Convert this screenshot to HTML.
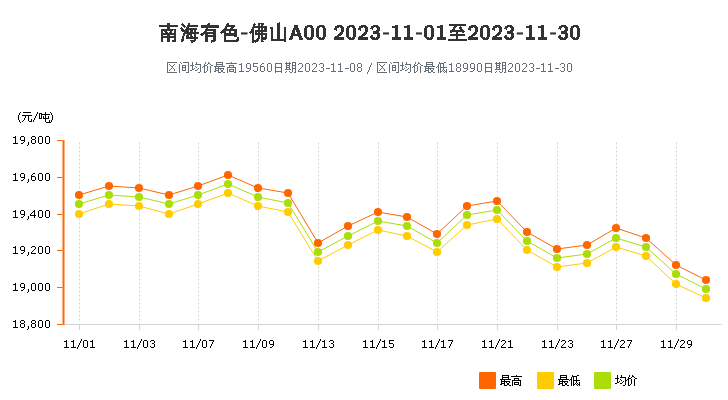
<!DOCTYPE html>
<html><head><meta charset="utf-8"><title>chart</title>
<style>html,body{margin:0;padding:0;background:#fff;font-family:"Liberation Sans",sans-serif}svg{display:block}</style></head>
<body>
<svg width="728" height="400" viewBox="0 0 728 400">
<rect width="728" height="400" fill="#fff"/>
<path d="M79.5 142.5V322.5M139.5 142.5V322.5M198.5 142.5V322.5M258.5 142.5V322.5M318.5 142.5V322.5M378.5 142.5V322.5M437.5 142.5V322.5M497.5 142.5V322.5M557.5 142.5V322.5M616.5 142.5V322.5M676.5 142.5V322.5" stroke="#d4d4d4" stroke-width="1" stroke-dasharray="2 2" fill="none"/>
<path d="M79.5 325v5M139.5 325v5M198.5 325v5M258.5 325v5M318.5 325v5M378.5 325v5M437.5 325v5M497.5 325v5M557.5 325v5M616.5 325v5M676.5 325v5" stroke="#d4d4d4" stroke-width="1" fill="none" shape-rendering="crispEdges"/>
<rect x="64" y="324" width="657.5" height="1" fill="#d4d4d4"/>
<rect x="62.5" y="140" width="2" height="185" fill="#ff6600"/>
<path d="M57 140h5.5v1h-5.5zM57 177h5.5v1h-5.5zM57 214h5.5v1h-5.5zM57 250h5.5v1h-5.5zM57 287h5.5v1h-5.5zM57 324h5.5v1h-5.5z" fill="#ff6600"/>
<polyline points="79,195 109,186 139,188 169,195 198,186 228,175 258,188 288,193 318,243 348,226 378,212 407,217 437,234 467,206 497,201 527,232 557,249 587,245 616,228 646,238 676,265 706,280" fill="none" stroke="#ff6600" stroke-width="1" stroke-linejoin="round"/>
<g fill="#ff6600"><circle cx="79" cy="195" r="4.1"/><circle cx="109" cy="186" r="4.1"/><circle cx="139" cy="188" r="4.1"/><circle cx="169" cy="195" r="4.1"/><circle cx="198" cy="186" r="4.1"/><circle cx="228" cy="175" r="4.1"/><circle cx="258" cy="188" r="4.1"/><circle cx="288" cy="193" r="4.1"/><circle cx="318" cy="243" r="4.1"/><circle cx="348" cy="226" r="4.1"/><circle cx="378" cy="212" r="4.1"/><circle cx="407" cy="217" r="4.1"/><circle cx="437" cy="234" r="4.1"/><circle cx="467" cy="206" r="4.1"/><circle cx="497" cy="201" r="4.1"/><circle cx="527" cy="232" r="4.1"/><circle cx="557" cy="249" r="4.1"/><circle cx="587" cy="245" r="4.1"/><circle cx="616" cy="228" r="4.1"/><circle cx="646" cy="238" r="4.1"/><circle cx="676" cy="265" r="4.1"/><circle cx="706" cy="280" r="4.1"/></g>
<polyline points="79,214 109,204 139,206 169,214 198,204 228,193 258,206 288,212 318,261 348,245 378,230 407,236 437,252 467,225 497,219 527,250 557,267 587,263 616,247 646,256 676,284 706,298" fill="none" stroke="#ffcc00" stroke-width="1" stroke-linejoin="round"/>
<g fill="#ffcc00"><circle cx="79" cy="214" r="4.1"/><circle cx="109" cy="204" r="4.1"/><circle cx="139" cy="206" r="4.1"/><circle cx="169" cy="214" r="4.1"/><circle cx="198" cy="204" r="4.1"/><circle cx="228" cy="193" r="4.1"/><circle cx="258" cy="206" r="4.1"/><circle cx="288" cy="212" r="4.1"/><circle cx="318" cy="261" r="4.1"/><circle cx="348" cy="245" r="4.1"/><circle cx="378" cy="230" r="4.1"/><circle cx="407" cy="236" r="4.1"/><circle cx="437" cy="252" r="4.1"/><circle cx="467" cy="225" r="4.1"/><circle cx="497" cy="219" r="4.1"/><circle cx="527" cy="250" r="4.1"/><circle cx="557" cy="267" r="4.1"/><circle cx="587" cy="263" r="4.1"/><circle cx="616" cy="247" r="4.1"/><circle cx="646" cy="256" r="4.1"/><circle cx="676" cy="284" r="4.1"/><circle cx="706" cy="298" r="4.1"/></g>
<polyline points="79,204 109,195 139,197 169,204 198,195 228,184 258,197 288,203 318,252 348,236 378,221 407,226 437,243 467,215 497,210 527,241 557,258 587,254 616,238 646,247 676,274 706,289" fill="none" stroke="#aadd0a" stroke-width="1" stroke-linejoin="round"/>
<g fill="#aadd0a"><circle cx="79" cy="204" r="4.1"/><circle cx="109" cy="195" r="4.1"/><circle cx="139" cy="197" r="4.1"/><circle cx="169" cy="204" r="4.1"/><circle cx="198" cy="195" r="4.1"/><circle cx="228" cy="184" r="4.1"/><circle cx="258" cy="197" r="4.1"/><circle cx="288" cy="203" r="4.1"/><circle cx="318" cy="252" r="4.1"/><circle cx="348" cy="236" r="4.1"/><circle cx="378" cy="221" r="4.1"/><circle cx="407" cy="226" r="4.1"/><circle cx="437" cy="243" r="4.1"/><circle cx="467" cy="215" r="4.1"/><circle cx="497" cy="210" r="4.1"/><circle cx="527" cy="241" r="4.1"/><circle cx="557" cy="258" r="4.1"/><circle cx="587" cy="254" r="4.1"/><circle cx="616" cy="238" r="4.1"/><circle cx="646" cy="247" r="4.1"/><circle cx="676" cy="274" r="4.1"/><circle cx="706" cy="289" r="4.1"/></g>
<rect x="479" y="372" width="17" height="17" rx="1" fill="#ff6600"/>
<rect x="537" y="372" width="17" height="17" rx="1" fill="#ffcc00"/>
<rect x="594" y="372" width="17" height="17" rx="1" fill="#aadd0a"/>
<g shape-rendering="crispEdges">
<path fill="#333" d="M279 22h1v1h-1zM167 23h3v2h-3zM182 23h1v1h-1zM188 23h2v2h-2zM208 23h2v1h-2zM227 23h2v1h-2zM254 23h1v1h-1zM258 23h6v1h-6zM277 23h3v16h-3zM181 24h3v1h-3zM207 24h3v1h-3zM226 24h3v1h-3zM253 24h3v1h-3zM258 24h2v2h-2zM261 24h3v1h-3zM449 24h17v2h-17zM159 25h19v2h-19zM182 25h3v1h-3zM187 25h11v2h-11zM201 25h18v3h-18zM226 25h9v1h-9zM253 25h2v1h-2zM261 25h2v1h-2zM294 25h4v3h-4zM307 25h5v1h-5zM319 25h5v1h-5zM337 25h5v1h-5zM349 25h5v1h-5zM361 25h5v1h-5zM373 25h5v1h-5zM395 25h3v1h-3zM407 25h3v1h-3zM427 25h5v1h-5zM440 25h3v1h-3zM471 25h5v1h-5zM483 25h5v1h-5zM495 25h5v1h-5zM507 25h5v1h-5zM529 25h3v1h-3zM541 25h3v1h-3zM561 25h5v1h-5zM573 25h5v1h-5zM183 26h3v1h-3zM225 26h10v1h-10zM253 26h14v1h-14zM305 26h8v1h-8zM317 26h8v1h-8zM335 26h8v1h-8zM347 26h8v1h-8zM359 26h8v1h-8zM371 26h8v1h-8zM392 26h6v2h-6zM404 26h6v2h-6zM425 26h8v1h-8zM437 26h6v2h-6zM454 26h3v1h-3zM460 26h1v1h-1zM469 26h8v1h-8zM481 26h8v1h-8zM493 26h8v1h-8zM505 26h8v1h-8zM526 26h6v2h-6zM538 26h6v2h-6zM559 26h8v1h-8zM571 26h8v1h-8zM167 27h3v2h-3zM181 27h1v1h-1zM184 27h1v1h-1zM186 27h3v1h-3zM225 27h2v1h-2zM231 27h3v1h-3zM252 27h15v1h-15zM270 27h3v2h-3zM284 27h2v12h-2zM305 27h3v1h-3zM310 27h3v1h-3zM317 27h3v1h-3zM322 27h3v1h-3zM335 27h4v1h-4zM340 27h4v1h-4zM347 27h3v1h-3zM352 27h3v1h-3zM359 27h4v1h-4zM364 27h4v1h-4zM371 27h3v1h-3zM376 27h4v1h-4zM425 27h3v1h-3zM430 27h3v1h-3zM453 27h3v1h-3zM459 27h3v2h-3zM469 27h4v1h-4zM474 27h4v1h-4zM481 27h3v1h-3zM486 27h3v1h-3zM493 27h4v1h-4zM498 27h4v1h-4zM505 27h3v1h-3zM510 27h4v1h-4zM559 27h3v1h-3zM564 27h4v1h-4zM571 27h3v1h-3zM576 27h3v1h-3zM180 28h3v1h-3zM186 28h11v1h-11zM206 28h2v1h-2zM224 28h3v1h-3zM230 28h3v1h-3zM252 28h2v1h-2zM258 28h2v2h-2zM261 28h2v2h-2zM264 28h3v2h-3zM293 28h6v2h-6zM304 28h3v9h-3zM311 28h3v9h-3zM316 28h3v9h-3zM323 28h3v9h-3zM334 28h3v2h-3zM341 28h3v4h-3zM346 28h3v9h-3zM353 28h3v9h-3zM358 28h3v2h-3zM365 28h3v4h-3zM370 28h3v1h-3zM377 28h3v2h-3zM395 28h3v9h-3zM407 28h3v9h-3zM424 28h3v9h-3zM431 28h3v9h-3zM440 28h3v9h-3zM453 28h2v1h-2zM468 28h3v2h-3zM475 28h3v4h-3zM480 28h3v9h-3zM487 28h3v9h-3zM492 28h3v2h-3zM499 28h3v4h-3zM504 28h3v1h-3zM511 28h3v2h-3zM529 28h3v9h-3zM541 28h3v9h-3zM558 28h3v1h-3zM565 28h3v2h-3zM570 28h3v9h-3zM577 28h3v9h-3zM161 29h15v1h-15zM181 29h3v1h-3zM185 29h12v1h-12zM205 29h11v2h-11zM223 29h14v1h-14zM251 29h3v2h-3zM271 29h2v10h-2zM372 29h1v1h-1zM452 29h3v1h-3zM460 29h3v1h-3zM506 29h1v1h-1zM560 29h1v1h-1zM161 30h12v1h-12zM174 30h2v3h-2zM181 30h8v1h-8zM190 30h3v2h-3zM194 30h2v2h-2zM222 30h15v1h-15zM255 30h12v2h-12zM292 30h3v3h-3zM296 30h4v2h-4zM336 30h1v1h-1zM360 30h1v1h-1zM376 30h4v1h-4zM450 30h14v1h-14zM470 30h1v1h-1zM494 30h1v1h-1zM510 30h4v1h-4zM564 30h4v1h-4zM161 31h2v2h-2zM164 31h3v1h-3zM170 31h2v1h-2zM182 31h7v1h-7zM204 31h3v1h-3zM213 31h3v1h-3zM221 31h5v1h-5zM229 31h2v2h-2zM234 31h3v2h-3zM250 31h4v1h-4zM373 31h6v2h-6zM450 31h15v1h-15zM507 31h6v2h-6zM561 31h6v2h-6zM165 32h3v1h-3zM169 32h3v1h-3zM184 32h15v1h-15zM203 32h13v1h-13zM220 32h6v1h-6zM249 32h5v1h-5zM255 32h2v1h-2zM258 32h2v1h-2zM261 32h2v1h-2zM297 32h3v1h-3zM340 32h3v1h-3zM364 32h3v1h-3zM450 32h2v1h-2zM456 32h2v2h-2zM462 32h2v1h-2zM474 32h3v1h-3zM498 32h3v1h-3zM161 33h15v2h-15zM183 33h16v1h-16zM201 33h15v1h-15zM221 33h1v1h-1zM224 33h13v3h-13zM250 33h1v1h-1zM252 33h2v7h-2zM255 33h12v2h-12zM291 33h4v1h-4zM297 33h4v1h-4zM339 33h4v1h-4zM363 33h4v1h-4zM373 33h7v1h-7zM473 33h4v1h-4zM497 33h4v1h-4zM507 33h7v1h-7zM561 33h7v1h-7zM183 34h2v2h-2zM187 34h5v1h-5zM194 34h2v3h-2zM200 34h4v1h-4zM205 34h3v1h-3zM213 34h3v1h-3zM291 34h10v2h-10zM338 34h4v1h-4zM362 34h4v1h-4zM377 34h3v3h-3zM450 34h15v2h-15zM472 34h4v1h-4zM496 34h4v1h-4zM511 34h3v3h-3zM565 34h3v3h-3zM161 35h2v1h-2zM167 35h3v1h-3zM174 35h2v1h-2zM186 35h3v2h-3zM190 35h2v1h-2zM201 35h2v1h-2zM205 35h11v2h-11zM258 35h2v3h-2zM261 35h2v2h-2zM265 35h2v2h-2zM337 35h4v1h-4zM361 35h4v1h-4zM371 35h2v1h-2zM471 35h4v1h-4zM495 35h4v1h-4zM505 35h2v1h-2zM559 35h2v1h-2zM161 36h15v2h-15zM182 36h2v3h-2zM190 36h3v1h-3zM224 36h2v4h-2zM234 36h3v1h-3zM290 36h3v2h-3zM298 36h4v1h-4zM335 36h4v1h-4zM359 36h4v1h-4zM370 36h3v1h-3zM456 36h2v3h-2zM469 36h4v1h-4zM493 36h4v1h-4zM504 36h3v1h-3zM558 36h3v1h-3zM186 37h12v2h-12zM205 37h3v5h-3zM213 37h3v3h-3zM237 37h2v2h-2zM261 37h6v2h-6zM299 37h3v1h-3zM305 37h4v1h-4zM310 37h3v1h-3zM317 37h4v1h-4zM322 37h3v1h-3zM334 37h10v3h-10zM347 37h4v1h-4zM352 37h3v1h-3zM358 37h10v3h-10zM370 37h5v1h-5zM376 37h4v1h-4zM392 37h9v3h-9zM404 37h9v3h-9zM425 37h4v1h-4zM430 37h3v1h-3zM437 37h9v3h-9zM468 37h10v3h-10zM481 37h4v1h-4zM486 37h3v1h-3zM492 37h10v3h-10zM504 37h5v1h-5zM510 37h4v1h-4zM526 37h9v3h-9zM538 37h9v3h-9zM558 37h5v1h-5zM564 37h4v1h-4zM571 37h4v1h-4zM576 37h3v1h-3zM161 38h2v4h-2zM167 38h3v4h-3zM174 38h2v2h-2zM257 38h3v1h-3zM289 38h4v1h-4zM299 38h4v2h-4zM306 38h7v1h-7zM318 38h7v1h-7zM348 38h7v1h-7zM371 38h8v1h-8zM426 38h7v1h-7zM482 38h7v1h-7zM505 38h8v1h-8zM559 38h8v1h-8zM572 38h7v1h-7zM181 39h3v2h-3zM194 39h2v1h-2zM236 39h3v1h-3zM256 39h3v1h-3zM261 39h5v1h-5zM271 39h15v2h-15zM289 39h3v1h-3zM307 39h5v1h-5zM319 39h5v1h-5zM349 39h5v1h-5zM372 39h6v1h-6zM427 39h5v1h-5zM448 39h19v2h-19zM483 39h5v1h-5zM506 39h6v1h-6zM560 39h6v1h-6zM573 39h5v1h-5zM172 40h4v2h-4zM190 40h6v1h-6zM211 40h5v1h-5zM224 40h15v1h-15zM252 40h7v1h-7zM261 40h2v1h-2zM181 41h2v1h-2zM191 41h4v1h-4zM211 41h4v1h-4zM224 41h14v1h-14zM252 41h6v1h-6zM261 41h3v1h-3zM284 41h2v1h-2zM191 42h2v1h-2zM211 42h1v1h-1zM252 42h2v1h-2zM255 42h1v1h-1z"/>
<rect x="241" y="32.4" width="6.5" height="2.1" fill="#333" shape-rendering="auto"/><rect x="383" y="32.4" width="6" height="2.1" fill="#333" shape-rendering="auto"/><rect x="416" y="32.4" width="6" height="2.1" fill="#333" shape-rendering="auto"/><rect x="516.75" y="32.4" width="6.25" height="2.1" fill="#333" shape-rendering="auto"/><rect x="550.1" y="32.4" width="5.9" height="2.1" fill="#333" shape-rendering="auto"/>
<path fill="#646c76" d="M167 62h10v1h-10zM180 62h1v1h-1zM183 62h6v1h-6zM192 62h1v3h-1zM196 62h1v2h-1zM205 62h1v2h-1zM208 62h1v1h-1zM216 62h7v1h-7zM231 62h1v1h-1zM286 62h1v1h-1zM289 62h1v1h-1zM292 62h4v1h-4zM377 62h10v1h-10zM390 62h1v1h-1zM393 62h6v1h-6zM402 62h1v3h-1zM406 62h1v2h-1zM415 62h1v2h-1zM418 62h1v1h-1zM426 62h7v1h-7zM439 62h1v1h-1zM444 62h2v1h-2zM496 62h1v1h-1zM499 62h1v1h-1zM502 62h4v1h-4zM167 63h1v9h-1zM181 63h1v1h-1zM188 63h1v9h-1zM208 63h2v1h-2zM216 63h1v1h-1zM222 63h1v1h-1zM226 63h11v1h-11zM241 63h1v1h-1zM247 63h3v1h-3zM253 63h5v1h-5zM262 63h2v1h-2zM268 63h3v1h-3zM275 63h7v1h-7zM285 63h6v1h-6zM292 63h1v2h-1zM295 63h1v2h-1zM299 63h3v1h-3zM306 63h3v1h-3zM313 63h3v1h-3zM320 63h3v1h-3zM333 63h1v1h-1zM340 63h1v1h-1zM351 63h3v1h-3zM358 63h3v1h-3zM371 63h1v2h-1zM377 63h1v9h-1zM391 63h1v1h-1zM398 63h1v9h-1zM418 63h2v1h-2zM426 63h1v1h-1zM432 63h1v1h-1zM439 63h5v1h-5zM451 63h1v1h-1zM457 63h3v1h-3zM464 63h3v1h-3zM471 63h3v1h-3zM478 63h3v1h-3zM485 63h7v1h-7zM495 63h6v1h-6zM502 63h1v2h-1zM505 63h1v2h-1zM509 63h3v1h-3zM516 63h3v1h-3zM523 63h3v1h-3zM530 63h3v1h-3zM543 63h1v1h-1zM550 63h1v1h-1zM561 63h3v1h-3zM568 63h3v1h-3zM169 64h1v1h-1zM174 64h1v1h-1zM179 64h1v9h-1zM195 64h6v1h-6zM204 64h1v1h-1zM207 64h1v1h-1zM210 64h1v1h-1zM216 64h7v1h-7zM239 64h3v1h-3zM246 64h1v4h-1zM250 64h1v4h-1zM253 64h1v2h-1zM261 64h1v1h-1zM267 64h1v7h-1zM271 64h1v7h-1zM275 64h1v3h-1zM281 64h1v3h-1zM286 64h1v1h-1zM289 64h1v1h-1zM298 64h1v1h-1zM302 64h1v3h-1zM305 64h1v7h-1zM309 64h1v7h-1zM312 64h1v1h-1zM316 64h1v3h-1zM319 64h1v1h-1zM323 64h1v3h-1zM331 64h3v1h-3zM338 64h3v1h-3zM350 64h1v7h-1zM354 64h1v7h-1zM357 64h1v3h-1zM361 64h1v3h-1zM379 64h1v1h-1zM384 64h1v1h-1zM389 64h1v9h-1zM405 64h6v1h-6zM414 64h1v1h-1zM417 64h1v1h-1zM420 64h1v1h-1zM426 64h7v1h-7zM438 64h1v2h-1zM440 64h1v3h-1zM443 64h1v3h-1zM449 64h3v1h-3zM456 64h1v3h-1zM460 64h1v3h-1zM463 64h1v4h-1zM467 64h1v4h-1zM470 64h1v4h-1zM474 64h1v4h-1zM477 64h1v7h-1zM481 64h1v7h-1zM485 64h1v3h-1zM491 64h1v3h-1zM496 64h1v1h-1zM499 64h1v1h-1zM508 64h1v1h-1zM512 64h1v3h-1zM515 64h1v7h-1zM519 64h1v7h-1zM522 64h1v1h-1zM526 64h1v3h-1zM529 64h1v1h-1zM533 64h1v3h-1zM541 64h3v1h-3zM548 64h3v1h-3zM560 64h1v1h-1zM564 64h1v3h-1zM567 64h1v7h-1zM571 64h1v7h-1zM170 65h1v1h-1zM173 65h1v1h-1zM182 65h4v1h-4zM190 65h4v1h-4zM200 65h1v7h-1zM204 65h3v1h-3zM211 65h2v1h-2zM216 65h1v1h-1zM222 65h1v1h-1zM229 65h5v1h-5zM241 65h1v6h-1zM260 65h1v1h-1zM286 65h4v1h-4zM292 65h4v1h-4zM333 65h1v6h-1zM340 65h1v6h-1zM370 65h1v2h-1zM380 65h1v1h-1zM383 65h1v1h-1zM392 65h4v1h-4zM400 65h4v1h-4zM410 65h1v7h-1zM414 65h3v1h-3zM421 65h2v1h-2zM426 65h1v1h-1zM432 65h1v1h-1zM451 65h1v6h-1zM496 65h4v1h-4zM502 65h4v1h-4zM543 65h1v6h-1zM550 65h1v6h-1zM171 66h2v1h-2zM182 66h1v1h-1zM185 66h1v1h-1zM192 66h1v3h-1zM195 66h1v1h-1zM203 66h2v1h-2zM207 66h1v5h-1zM210 66h1v7h-1zM214 66h11v1h-11zM229 66h1v1h-1zM233 66h1v1h-1zM253 66h4v1h-4zM260 66h4v1h-4zM286 66h1v1h-1zM289 66h1v1h-1zM292 66h1v2h-1zM295 66h1v2h-1zM381 66h2v1h-2zM392 66h1v1h-1zM395 66h1v1h-1zM402 66h1v3h-1zM405 66h1v1h-1zM413 66h2v1h-2zM417 66h1v5h-1zM420 66h1v7h-1zM424 66h11v1h-11zM437 66h2v1h-2zM496 66h1v1h-1zM499 66h1v1h-1zM502 66h1v2h-1zM505 66h1v2h-1zM172 67h1v1h-1zM182 67h4v1h-4zM196 67h1v1h-1zM202 67h1v1h-1zM204 67h1v5h-1zM215 67h1v1h-1zM218 67h1v1h-1zM227 67h9v1h-9zM257 67h1v4h-1zM260 67h1v4h-1zM264 67h1v4h-1zM275 67h7v1h-7zM286 67h4v1h-4zM301 67h1v1h-1zM315 67h1v1h-1zM321 67h2v1h-2zM358 67h3v1h-3zM369 67h1v3h-1zM382 67h1v1h-1zM392 67h4v1h-4zM406 67h1v1h-1zM412 67h1v1h-1zM414 67h1v5h-1zM425 67h1v1h-1zM428 67h1v1h-1zM436 67h1v1h-1zM438 67h1v6h-1zM440 67h7v1h-7zM457 67h3v1h-3zM485 67h7v1h-7zM496 67h4v1h-4zM511 67h1v1h-1zM525 67h1v1h-1zM531 67h2v1h-2zM562 67h2v1h-2zM171 68h1v1h-1zM173 68h1v1h-1zM182 68h1v2h-1zM185 68h1v2h-1zM194 68h1v1h-1zM198 68h1v1h-1zM215 68h9v1h-9zM227 68h1v5h-1zM235 68h1v4h-1zM247 68h4v1h-4zM275 68h1v3h-1zM281 68h1v3h-1zM286 68h1v1h-1zM289 68h1v1h-1zM292 68h4v1h-4zM300 68h1v1h-1zM314 68h1v1h-1zM323 68h1v3h-1zM326 68h4v1h-4zM345 68h4v1h-4zM357 68h1v3h-1zM361 68h1v3h-1zM381 68h1v1h-1zM383 68h1v1h-1zM392 68h1v2h-1zM395 68h1v2h-1zM404 68h1v1h-1zM408 68h1v1h-1zM425 68h9v1h-9zM440 68h1v3h-1zM443 68h1v2h-1zM456 68h1v3h-1zM460 68h1v3h-1zM464 68h4v1h-4zM471 68h4v1h-4zM485 68h1v3h-1zM491 68h1v3h-1zM496 68h1v1h-1zM499 68h1v1h-1zM502 68h4v1h-4zM510 68h1v1h-1zM524 68h1v1h-1zM533 68h1v3h-1zM536 68h4v1h-4zM555 68h4v1h-4zM564 68h1v3h-1zM170 69h1v1h-1zM174 69h1v2h-1zM192 69h2v1h-2zM197 69h1v1h-1zM215 69h1v1h-1zM218 69h1v1h-1zM220 69h1v1h-1zM223 69h1v1h-1zM229 69h5v1h-5zM250 69h1v1h-1zM285 69h6v1h-6zM292 69h1v3h-1zM295 69h1v3h-1zM299 69h1v1h-1zM313 69h1v1h-1zM380 69h1v1h-1zM384 69h1v2h-1zM402 69h2v1h-2zM407 69h1v1h-1zM425 69h1v1h-1zM428 69h1v1h-1zM430 69h1v1h-1zM433 69h1v1h-1zM446 69h1v2h-1zM467 69h1v1h-1zM474 69h1v1h-1zM495 69h6v1h-6zM502 69h1v3h-1zM505 69h1v3h-1zM509 69h1v1h-1zM523 69h1v1h-1zM169 70h1v1h-1zM182 70h4v1h-4zM190 70h2v1h-2zM195 70h2v1h-2zM215 70h4v1h-4zM221 70h2v2h-2zM229 70h1v1h-1zM233 70h1v1h-1zM249 70h1v1h-1zM253 70h1v1h-1zM298 70h1v1h-1zM312 70h1v1h-1zM319 70h1v1h-1zM368 70h1v2h-1zM379 70h1v1h-1zM392 70h4v1h-4zM400 70h2v1h-2zM405 70h2v1h-2zM425 70h4v1h-4zM431 70h2v2h-2zM442 70h1v1h-1zM444 70h1v1h-1zM466 70h1v1h-1zM473 70h1v1h-1zM508 70h1v1h-1zM522 70h1v1h-1zM529 70h1v1h-1zM560 70h1v1h-1zM206 71h1v1h-1zM214 71h2v1h-2zM218 71h1v1h-1zM229 71h5v1h-5zM239 71h5v1h-5zM246 71h3v1h-3zM254 71h3v1h-3zM261 71h3v1h-3zM268 71h3v1h-3zM275 71h7v1h-7zM286 71h1v1h-1zM289 71h1v1h-1zM298 71h5v1h-5zM306 71h3v1h-3zM312 71h5v1h-5zM320 71h3v1h-3zM331 71h5v1h-5zM338 71h5v1h-5zM351 71h3v1h-3zM358 71h3v1h-3zM416 71h1v1h-1zM424 71h2v1h-2zM428 71h1v1h-1zM440 71h2v1h-2zM443 71h1v1h-1zM445 71h2v1h-2zM449 71h5v1h-5zM457 71h3v1h-3zM463 71h3v1h-3zM470 71h3v1h-3zM478 71h3v1h-3zM485 71h7v1h-7zM496 71h1v1h-1zM499 71h1v1h-1zM508 71h5v1h-5zM516 71h3v1h-3zM522 71h5v1h-5zM530 71h3v1h-3zM541 71h5v1h-5zM548 71h5v1h-5zM561 71h3v1h-3zM568 71h3v1h-3zM167 72h10v1h-10zM186 72h3v1h-3zM198 72h2v1h-2zM204 72h2v1h-2zM218 72h3v1h-3zM223 72h2v1h-2zM234 72h2v1h-2zM275 72h1v1h-1zM281 72h1v1h-1zM285 72h1v1h-1zM290 72h2v1h-2zM294 72h2v1h-2zM367 72h1v2h-1zM377 72h10v1h-10zM396 72h3v1h-3zM408 72h2v1h-2zM414 72h2v1h-2zM428 72h3v1h-3zM433 72h2v1h-2zM440 72h1v1h-1zM444 72h1v1h-1zM446 72h1v1h-1zM485 72h1v1h-1zM491 72h1v1h-1zM495 72h1v1h-1zM500 72h2v1h-2zM504 72h2v1h-2z"/>
<path fill="#000" d="M20 112h1v1h-1zM23 112h8v1h-8zM37 112h1v2h-1zM45 112h1v2h-1zM50 112h1v1h-1zM19 113h1v2h-1zM39 113h3v1h-3zM51 113h1v2h-1zM36 114h1v2h-1zM39 114h1v4h-1zM41 114h9v1h-9zM18 115h1v5h-1zM22 115h10v1h-10zM41 115h1v3h-1zM45 115h1v3h-1zM52 115h1v5h-1zM25 116h1v2h-1zM28 116h1v5h-1zM35 116h1v2h-1zM43 116h1v2h-1zM48 116h1v2h-1zM24 118h1v2h-1zM34 118h1v2h-1zM39 118h3v1h-3zM43 118h6v1h-6zM31 119h1v2h-1zM45 119h1v3h-1zM19 120h1v2h-1zM23 120h1v1h-1zM33 120h1v2h-1zM49 120h1v2h-1zM51 120h1v2h-1zM22 121h1v1h-1zM29 121h3v1h-3zM20 122h1v1h-1zM46 122h5v1h-5zM15 136h1v1h-1zM21 136h3v1h-3zM32 136h3v1h-3zM39 136h3v1h-3zM46 136h3v1h-3zM13 137h3v1h-3zM20 137h1v3h-1zM24 137h1v3h-1zM31 137h1v2h-1zM35 137h1v2h-1zM38 137h1v6h-1zM42 137h1v6h-1zM45 137h1v6h-1zM49 137h1v6h-1zM15 138h1v5h-1zM32 139h3v1h-3zM21 140h4v1h-4zM31 140h1v3h-1zM35 140h1v3h-1zM24 141h1v1h-1zM23 142h1v1h-1zM28 142h1v3h-1zM13 143h5v1h-5zM21 143h2v1h-2zM32 143h3v1h-3zM39 143h3v1h-3zM46 143h3v1h-3zM27 145h1v1h-1zM15 173h1v1h-1zM21 173h3v1h-3zM33 173h2v1h-2zM39 173h3v1h-3zM46 173h3v1h-3zM13 174h3v1h-3zM20 174h1v3h-1zM24 174h1v3h-1zM32 174h1v1h-1zM38 174h1v6h-1zM42 174h1v6h-1zM45 174h1v6h-1zM49 174h1v6h-1zM15 175h1v5h-1zM31 175h1v1h-1zM31 176h4v1h-4zM21 177h4v1h-4zM31 177h1v3h-1zM35 177h1v3h-1zM24 178h1v1h-1zM23 179h1v1h-1zM28 179h1v3h-1zM13 180h5v1h-5zM21 180h2v1h-2zM32 180h3v1h-3zM39 180h3v1h-3zM46 180h3v1h-3zM27 182h1v1h-1zM15 210h1v1h-1zM21 210h3v1h-3zM34 210h1v1h-1zM39 210h3v1h-3zM46 210h3v1h-3zM13 211h3v1h-3zM20 211h1v3h-1zM24 211h1v3h-1zM33 211h2v1h-2zM38 211h1v6h-1zM42 211h1v6h-1zM45 211h1v6h-1zM49 211h1v6h-1zM15 212h1v5h-1zM32 212h1v1h-1zM34 212h1v3h-1zM31 213h1v1h-1zM21 214h4v1h-4zM30 214h1v1h-1zM24 215h1v1h-1zM30 215h6v1h-6zM23 216h1v1h-1zM28 216h1v3h-1zM34 216h1v2h-1zM13 217h5v1h-5zM21 217h2v1h-2zM39 217h3v1h-3zM46 217h3v1h-3zM27 219h1v1h-1zM15 246h1v1h-1zM21 246h3v1h-3zM32 246h3v1h-3zM39 246h3v1h-3zM46 246h3v1h-3zM13 247h3v1h-3zM20 247h1v3h-1zM24 247h1v3h-1zM31 247h1v1h-1zM35 247h1v2h-1zM38 247h1v6h-1zM42 247h1v6h-1zM45 247h1v6h-1zM49 247h1v6h-1zM15 248h1v5h-1zM34 249h1v1h-1zM21 250h4v1h-4zM33 250h1v1h-1zM24 251h1v1h-1zM32 251h1v1h-1zM23 252h1v1h-1zM28 252h1v3h-1zM31 252h1v1h-1zM13 253h5v1h-5zM21 253h2v1h-2zM31 253h5v1h-5zM39 253h3v1h-3zM46 253h3v1h-3zM27 255h1v1h-1zM15 283h1v1h-1zM21 283h3v1h-3zM32 283h3v1h-3zM39 283h3v1h-3zM46 283h3v1h-3zM13 284h3v1h-3zM20 284h1v3h-1zM24 284h1v3h-1zM31 284h1v6h-1zM35 284h1v6h-1zM38 284h1v6h-1zM42 284h1v6h-1zM45 284h1v6h-1zM49 284h1v6h-1zM15 285h1v5h-1zM21 287h4v1h-4zM24 288h1v1h-1zM23 289h1v1h-1zM28 289h1v3h-1zM13 290h5v1h-5zM21 290h2v1h-2zM32 290h3v1h-3zM39 290h3v1h-3zM46 290h3v1h-3zM27 292h1v1h-1zM15 320h1v1h-1zM21 320h3v1h-3zM32 320h3v1h-3zM39 320h3v1h-3zM46 320h3v1h-3zM13 321h3v1h-3zM20 321h1v2h-1zM24 321h1v2h-1zM31 321h1v2h-1zM35 321h1v2h-1zM38 321h1v6h-1zM42 321h1v6h-1zM45 321h1v6h-1zM49 321h1v6h-1zM15 322h1v5h-1zM21 323h3v1h-3zM32 323h3v1h-3zM20 324h1v3h-1zM24 324h1v3h-1zM31 324h1v3h-1zM35 324h1v3h-1zM28 326h1v3h-1zM13 327h5v1h-5zM21 327h3v1h-3zM32 327h3v1h-3zM39 327h3v1h-3zM46 327h3v1h-3zM27 329h1v1h-1zM81 339h1v2h-1zM141 339h1v2h-1zM200 339h1v2h-1zM260 339h1v2h-1zM320 339h1v2h-1zM380 339h1v2h-1zM439 339h1v2h-1zM499 339h1v2h-1zM559 339h1v2h-1zM618 339h1v2h-1zM678 339h1v2h-1zM66 340h1v1h-1zM73 340h1v1h-1zM84 340h3v1h-3zM92 340h1v1h-1zM126 340h1v1h-1zM133 340h1v1h-1zM144 340h3v1h-3zM151 340h3v1h-3zM185 340h1v1h-1zM192 340h1v1h-1zM203 340h3v1h-3zM209 340h5v1h-5zM245 340h1v1h-1zM252 340h1v1h-1zM263 340h3v1h-3zM270 340h3v1h-3zM305 340h1v1h-1zM312 340h1v1h-1zM324 340h1v1h-1zM330 340h3v1h-3zM365 340h1v1h-1zM372 340h1v1h-1zM384 340h1v1h-1zM389 340h5v1h-5zM424 340h1v1h-1zM431 340h1v1h-1zM443 340h1v1h-1zM448 340h5v1h-5zM484 340h1v1h-1zM491 340h1v1h-1zM502 340h3v1h-3zM510 340h1v1h-1zM544 340h1v1h-1zM551 340h1v1h-1zM562 340h3v1h-3zM569 340h3v1h-3zM603 340h1v1h-1zM610 340h1v1h-1zM621 340h3v1h-3zM627 340h5v1h-5zM663 340h1v1h-1zM670 340h1v1h-1zM681 340h3v1h-3zM688 340h3v1h-3zM64 341h3v1h-3zM71 341h3v1h-3zM80 341h1v2h-1zM83 341h1v6h-1zM87 341h1v6h-1zM90 341h3v1h-3zM124 341h3v1h-3zM131 341h3v1h-3zM140 341h1v2h-1zM143 341h1v6h-1zM147 341h1v6h-1zM150 341h1v1h-1zM154 341h1v2h-1zM183 341h3v1h-3zM190 341h3v1h-3zM199 341h1v2h-1zM202 341h1v6h-1zM206 341h1v6h-1zM213 341h1v1h-1zM243 341h3v1h-3zM250 341h3v1h-3zM259 341h1v2h-1zM262 341h1v6h-1zM266 341h1v6h-1zM269 341h1v3h-1zM273 341h1v3h-1zM303 341h3v1h-3zM310 341h3v1h-3zM319 341h1v2h-1zM322 341h3v1h-3zM329 341h1v1h-1zM333 341h1v2h-1zM363 341h3v1h-3zM370 341h3v1h-3zM379 341h1v2h-1zM382 341h3v1h-3zM389 341h1v2h-1zM422 341h3v1h-3zM429 341h3v1h-3zM438 341h1v2h-1zM441 341h3v1h-3zM452 341h1v1h-1zM482 341h3v1h-3zM489 341h3v1h-3zM498 341h1v2h-1zM501 341h1v1h-1zM505 341h1v2h-1zM508 341h3v1h-3zM542 341h3v1h-3zM549 341h3v1h-3zM558 341h1v2h-1zM561 341h1v1h-1zM565 341h1v2h-1zM568 341h1v1h-1zM572 341h1v2h-1zM601 341h3v1h-3zM608 341h3v1h-3zM617 341h1v2h-1zM620 341h1v1h-1zM624 341h1v2h-1zM631 341h1v1h-1zM661 341h3v1h-3zM668 341h3v1h-3zM677 341h1v2h-1zM680 341h1v1h-1zM684 341h1v2h-1zM687 341h1v3h-1zM691 341h1v3h-1zM66 342h1v5h-1zM73 342h1v5h-1zM92 342h1v5h-1zM126 342h1v5h-1zM133 342h1v5h-1zM185 342h1v5h-1zM192 342h1v5h-1zM212 342h1v2h-1zM245 342h1v5h-1zM252 342h1v5h-1zM305 342h1v5h-1zM312 342h1v5h-1zM324 342h1v5h-1zM365 342h1v5h-1zM372 342h1v5h-1zM384 342h1v5h-1zM424 342h1v5h-1zM431 342h1v5h-1zM443 342h1v5h-1zM451 342h1v2h-1zM484 342h1v5h-1zM491 342h1v5h-1zM510 342h1v5h-1zM544 342h1v5h-1zM551 342h1v5h-1zM603 342h1v5h-1zM610 342h1v5h-1zM630 342h1v2h-1zM663 342h1v5h-1zM670 342h1v5h-1zM79 343h1v2h-1zM139 343h1v2h-1zM152 343h2v1h-2zM198 343h1v2h-1zM258 343h1v2h-1zM318 343h1v2h-1zM331 343h2v1h-2zM378 343h1v2h-1zM389 343h4v1h-4zM437 343h1v2h-1zM497 343h1v2h-1zM504 343h1v1h-1zM557 343h1v2h-1zM564 343h1v1h-1zM570 343h2v1h-2zM616 343h1v2h-1zM623 343h1v1h-1zM676 343h1v2h-1zM683 343h1v1h-1zM154 344h1v3h-1zM211 344h1v2h-1zM270 344h4v1h-4zM333 344h1v3h-1zM393 344h1v3h-1zM450 344h1v2h-1zM503 344h1v1h-1zM563 344h1v1h-1zM572 344h1v3h-1zM622 344h1v1h-1zM629 344h1v2h-1zM682 344h1v1h-1zM688 344h4v1h-4zM78 345h1v2h-1zM138 345h1v2h-1zM197 345h1v2h-1zM257 345h1v2h-1zM273 345h1v1h-1zM317 345h1v2h-1zM377 345h1v2h-1zM436 345h1v2h-1zM496 345h1v2h-1zM502 345h1v1h-1zM556 345h1v2h-1zM562 345h1v1h-1zM615 345h1v2h-1zM621 345h1v1h-1zM675 345h1v2h-1zM681 345h1v1h-1zM691 345h1v1h-1zM150 346h1v1h-1zM210 346h1v2h-1zM272 346h1v1h-1zM329 346h1v1h-1zM389 346h1v1h-1zM449 346h1v2h-1zM501 346h1v1h-1zM561 346h1v1h-1zM568 346h1v1h-1zM620 346h1v1h-1zM628 346h1v2h-1zM680 346h1v1h-1zM690 346h1v1h-1zM64 347h5v1h-5zM71 347h5v1h-5zM77 347h1v2h-1zM84 347h3v1h-3zM90 347h5v1h-5zM124 347h5v1h-5zM131 347h5v1h-5zM137 347h1v2h-1zM144 347h3v1h-3zM151 347h3v1h-3zM183 347h5v1h-5zM190 347h5v1h-5zM196 347h1v2h-1zM203 347h3v1h-3zM243 347h5v1h-5zM250 347h5v1h-5zM256 347h1v2h-1zM263 347h3v1h-3zM270 347h2v1h-2zM303 347h5v1h-5zM310 347h5v1h-5zM316 347h1v2h-1zM322 347h5v1h-5zM330 347h3v1h-3zM363 347h5v1h-5zM370 347h5v1h-5zM376 347h1v2h-1zM382 347h5v1h-5zM390 347h3v1h-3zM422 347h5v1h-5zM429 347h5v1h-5zM435 347h1v2h-1zM441 347h5v1h-5zM482 347h5v1h-5zM489 347h5v1h-5zM495 347h1v2h-1zM501 347h5v1h-5zM508 347h5v1h-5zM542 347h5v1h-5zM549 347h5v1h-5zM555 347h1v2h-1zM561 347h5v1h-5zM569 347h3v1h-3zM601 347h5v1h-5zM608 347h5v1h-5zM614 347h1v2h-1zM620 347h5v1h-5zM661 347h5v1h-5zM668 347h5v1h-5zM674 347h1v2h-1zM680 347h5v1h-5zM688 347h2v1h-2zM502 375h7v1h-7zM516 375h1v1h-1zM560 375h7v1h-7zM572 375h1v1h-1zM577 375h2v1h-2zM617 375h1v3h-1zM621 375h1v2h-1zM629 375h1v2h-1zM632 375h1v1h-1zM502 376h1v1h-1zM508 376h1v1h-1zM511 376h11v1h-11zM560 376h1v1h-1zM566 376h1v1h-1zM572 376h5v1h-5zM632 376h2v1h-2zM502 377h7v1h-7zM560 377h7v1h-7zM571 377h1v2h-1zM573 377h1v3h-1zM576 377h1v3h-1zM620 377h6v1h-6zM628 377h1v1h-1zM631 377h1v1h-1zM634 377h1v1h-1zM502 378h1v1h-1zM508 378h1v1h-1zM514 378h5v1h-5zM560 378h1v1h-1zM566 378h1v1h-1zM615 378h4v1h-4zM625 378h1v2h-1zM628 378h3v1h-3zM635 378h2v1h-2zM500 379h11v1h-11zM514 379h1v1h-1zM518 379h1v1h-1zM558 379h11v1h-11zM570 379h2v1h-2zM617 379h1v3h-1zM620 379h1v1h-1zM627 379h2v1h-2zM631 379h1v5h-1zM634 379h1v7h-1zM501 380h1v1h-1zM504 380h1v1h-1zM512 380h9v1h-9zM559 380h1v1h-1zM562 380h1v1h-1zM569 380h1v1h-1zM571 380h1v6h-1zM573 380h7v1h-7zM621 380h1v1h-1zM625 380h2v1h-2zM628 380h1v5h-1zM501 381h9v1h-9zM512 381h1v5h-1zM520 381h1v4h-1zM559 381h9v1h-9zM573 381h1v3h-1zM576 381h1v2h-1zM619 381h1v1h-1zM623 381h1v1h-1zM625 381h1v4h-1zM501 382h1v1h-1zM504 382h1v1h-1zM506 382h1v1h-1zM509 382h1v1h-1zM514 382h5v1h-5zM559 382h1v1h-1zM562 382h1v1h-1zM564 382h1v1h-1zM567 382h1v1h-1zM579 382h1v2h-1zM617 382h2v1h-2zM622 382h1v1h-1zM501 383h4v1h-4zM507 383h2v2h-2zM514 383h1v1h-1zM518 383h1v1h-1zM559 383h4v1h-4zM565 383h2v2h-2zM575 383h1v1h-1zM577 383h1v1h-1zM615 383h2v1h-2zM620 383h2v1h-2zM500 384h2v1h-2zM504 384h1v1h-1zM514 384h5v1h-5zM558 384h2v1h-2zM562 384h1v1h-1zM573 384h2v1h-2zM576 384h1v1h-1zM578 384h2v1h-2zM630 384h1v1h-1zM504 385h3v1h-3zM509 385h2v1h-2zM519 385h2v1h-2zM562 385h3v1h-3zM567 385h2v1h-2zM573 385h1v1h-1zM577 385h1v1h-1zM579 385h1v1h-1zM623 385h2v1h-2zM628 385h2v1h-2z"/>
</g>
</svg>
</body></html>
